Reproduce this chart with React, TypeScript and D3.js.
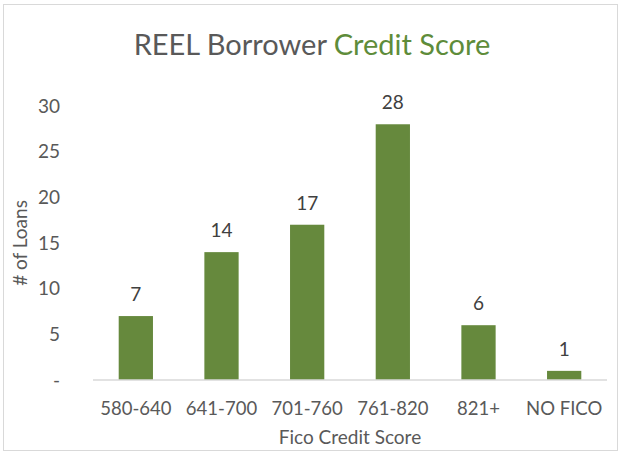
import * as React from "react";
import { scaleBand, scaleLinear } from "d3";

const categories = ["580-640", "641-700", "701-760", "761-820", "821+", "NO FICO"];
const loans = [7, 14, 17, 28, 6, 1];
const yTicks = [0, 5, 10, 15, 20, 25, 30];

const W = 621;
const H = 453;
const font = "Lato, 'Open Sans', sans-serif";

export default function App() {
  const margin = { top: 106, right: 14, bottom: 73, left: 93 };

  const xScale = scaleBand()
    .domain(categories)
    .range([margin.left, W - margin.right])
    .paddingInner(0.6)
    .paddingOuter(0.3);

  const yScale = scaleLinear()
    .domain([0, 30])
    .range([H - margin.bottom, margin.top]);

  const base = yScale(0);

  return (
    <svg
      width={W}
      height={H}
      style={{ position: "absolute", left: 0, top: 0, fontFamily: font }}
    >
      <rect x={0} y={0} width={W} height={H} fill="white" />
      <rect x={3.5} y={4.5} width={W - 7} height={H - 7} fill="white" stroke="#d9d9d9" />

      <text x={312} y={55} textAnchor="middle" fontSize={29} fill="#595959">
        REEL Borrower <tspan fill="#5e8c3a">Credit Score</tspan>
      </text>

      {yTicks.map((t) => (
        <text
          key={t}
          x={60}
          y={yScale(t)}
          dy="0.35em"
          textAnchor="end"
          fontSize={19}
          fill="#595959"
        >
          {t === 0 ? "-" : t}
        </text>
      ))}

      <text
        transform={`translate(27,${(yScale(0) + yScale(30)) / 2}) rotate(-90)`}
        textAnchor="middle"
        fontSize={19}
        fill="#595959"
      >
        # of Loans
      </text>

      {loans.map((d, i) => {
        const c = categories[i];
        const x = xScale(c) as number;
        return (
          <g key={c}>
            <rect
              x={x}
              y={yScale(d)}
              width={xScale.bandwidth()}
              height={base - yScale(d)}
              fill="#66893d"
            />
            <text
              x={x + xScale.bandwidth() / 2}
              y={yScale(d) - 15}
              textAnchor="middle"
              fontSize={19}
              fill="#404040"
            >
              {d}
            </text>
          </g>
        );
      })}

      <line
        x1={margin.left}
        x2={W - margin.right}
        y1={base}
        y2={base}
        stroke="#d9d9d9"
        strokeWidth={1.5}
      />

      {categories.map((c) => (
        <text
          key={c}
          x={(xScale(c) as number) + xScale.bandwidth() / 2}
          y={415}
          textAnchor="middle"
          fontSize={18.5}
          fill="#595959"
        >
          {c}
        </text>
      ))}

      <text x={350} y={444} textAnchor="middle" fontSize={19} fill="#595959">
        Fico Credit Score
      </text>
    </svg>
  );
}
